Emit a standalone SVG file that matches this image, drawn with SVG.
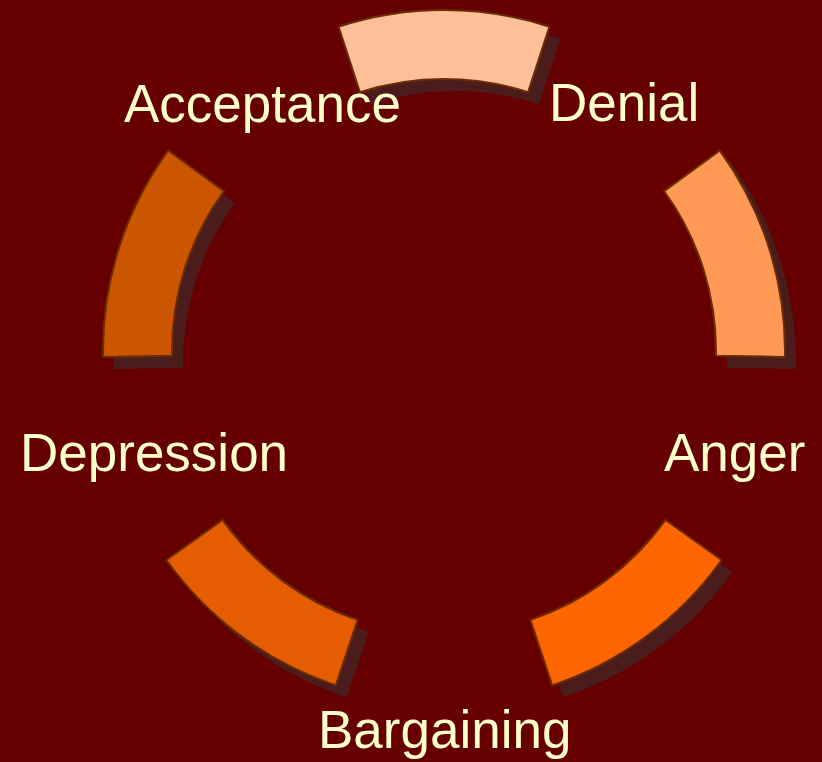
<svg xmlns="http://www.w3.org/2000/svg" xmlns:xlink="http://www.w3.org/1999/xlink" width="822" height="762" viewBox="0 0 822 762">
<style>
.seg{stroke:#6B2D05;stroke-width:2;stroke-linejoin:round}
.shadow{fill:#4A1C1C;stroke:none}
.lbl{font-family:"Liberation Sans",Arial,sans-serif;font-size:53px;fill:#FFFFCC}
</style>
<defs>
<path id="pTop" d="M 338.62 26.69 A 341 341 0 0 1 549.38 26.69 L 528.05 92.31 A 272 272 0 0 0 359.95 92.31 Z"/>
<path id="pRU" d="M 719.87 150.56 A 341 341 0 0 1 784.95 356.95 L 715.96 355.75 A 272 272 0 0 0 664.05 191.12 Z"/>
<path id="pRL" d="M 721.61 560.02 A 341 341 0 0 1 552.20 685.38 L 530.31 619.94 A 272 272 0 0 0 665.44 519.95 Z"/>
<path id="pLL" d="M 166.39 560.02 A 341 341 0 0 0 335.80 685.38 L 357.69 619.94 A 272 272 0 0 1 222.56 519.95 Z"/>
<path id="pLU" d="M 168.13 150.56 A 341 341 0 0 0 103.05 356.95 L 172.04 355.75 A 272 272 0 0 1 223.95 191.12 Z"/>
</defs>
<rect width="822" height="762" fill="#660000"/>
<g id="denial">
<use xlink:href="#pTop" href="#pTop" class="shadow" transform="translate(11,12)"/>
<use xlink:href="#pTop" href="#pTop" class="seg" fill="#FFBF99"/>
<text class="lbl" x="549" y="121">Denial</text>
</g>
<g id="anger">
<use xlink:href="#pRU" href="#pRU" class="shadow" transform="translate(11,12)"/>
<use xlink:href="#pRU" href="#pRU" class="seg" fill="#FF9955"/>
<text class="lbl" x="664" y="471">Anger</text>
</g>
<g id="bargaining">
<use xlink:href="#pRL" href="#pRL" class="shadow" transform="translate(11,12)"/>
<use xlink:href="#pRL" href="#pRL" class="seg" fill="#FF6600"/>
<text class="lbl" x="318" y="748">Bargaining</text>
</g>
<g id="depression">
<use xlink:href="#pLL" href="#pLL" class="shadow" transform="translate(11,12)"/>
<use xlink:href="#pLL" href="#pLL" class="seg" fill="#E65C00"/>
<text class="lbl" x="20" y="471">Depression</text>
</g>
<g id="acceptance">
<use xlink:href="#pLU" href="#pLU" class="shadow" transform="translate(11,12)"/>
<use xlink:href="#pLU" href="#pLU" class="seg" fill="#CC5500"/>
<text class="lbl" x="124" y="122">Acceptance</text>
</g>
</svg>
